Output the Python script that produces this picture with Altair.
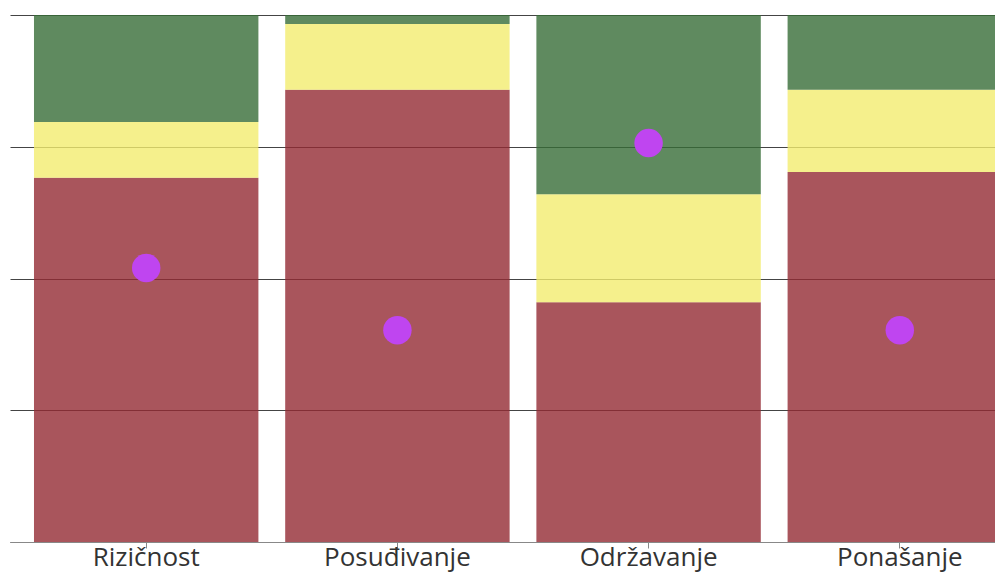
import altair as alt
import pandas as pd

categories = ["Rizičnost", "Posuđivanje", "Održavanje", "Ponašanje"]
red_values = [69.1, 85.8, 45.5, 70.2]
yellow_values = [10.6, 12.5, 20.5, 15.6]
green_values = [20.3, 1.7, 34.0, 14.2]
dot_values = [52.0, 40.2, 75.7, 40.2]
y_ticks = [0, 25, 50, 75, 100]

segments = ["red", "yellow", "green"]
seg_colors = ["#942b33", "#f3ec6f", "#376d37"]

rows = []
for i, c in enumerate(categories):
    for j, (s, v) in enumerate(zip(segments, [red_values[i], yellow_values[i], green_values[i]])):
        rows.append({"category": c, "segment": s, "order": j, "value": v})
bars_df = pd.DataFrame(rows)
dots_df = pd.DataFrame({"category": categories, "score": dot_values})

x_enc = alt.X(
    "category:N",
    sort=categories,
    title=None,
    scale=alt.Scale(range=[0, 1026], paddingInner=0.1066, paddingOuter=0.0955),
    axis=alt.Axis(
        labelAngle=0,
        labelFont="Open Sans",
        labelFontSize=26,
        labelColor="#333333",
        labelBaseline="alphabetic",
        labelPadding=17,
        tickSize=6,
        tickColor="#888888",
        domainColor="#888888",
        grid=False,
    ),
)

y_scale = alt.Scale(domain=[0, 100], nice=False)

bars = alt.Chart(bars_df).mark_bar(opacity=0.8).encode(
    x=x_enc,
    y=alt.Y(
        "value:Q",
        stack="zero",
        scale=y_scale,
        title=None,
        axis=alt.Axis(
            values=y_ticks,
            labels=False,
            ticks=False,
            domain=False,
            grid=True,
            gridColor="#444444",
            gridWidth=1,
        ),
    ),
    color=alt.Color(
        "segment:N",
        scale=alt.Scale(domain=segments, range=seg_colors),
        legend=None,
    ),
    order=alt.Order("order:Q"),
)

dots = alt.Chart(dots_df).mark_circle(size=810, opacity=1, color="#bf45f0").encode(
    x=alt.X("category:N", sort=categories),
    y=alt.Y("score:Q", scale=y_scale),
)

chart = (
    alt.layer(bars, dots)
    .properties(
        width=985,
        height=527,
        autosize=alt.AutoSizeParams(type="none"),
        padding={"left": 2, "top": 7, "right": 0, "bottom": 31},
    )
    .configure_view(stroke=None)
)

chart.save("out.html", embed_options={"renderer": "svg", "actions": False})
